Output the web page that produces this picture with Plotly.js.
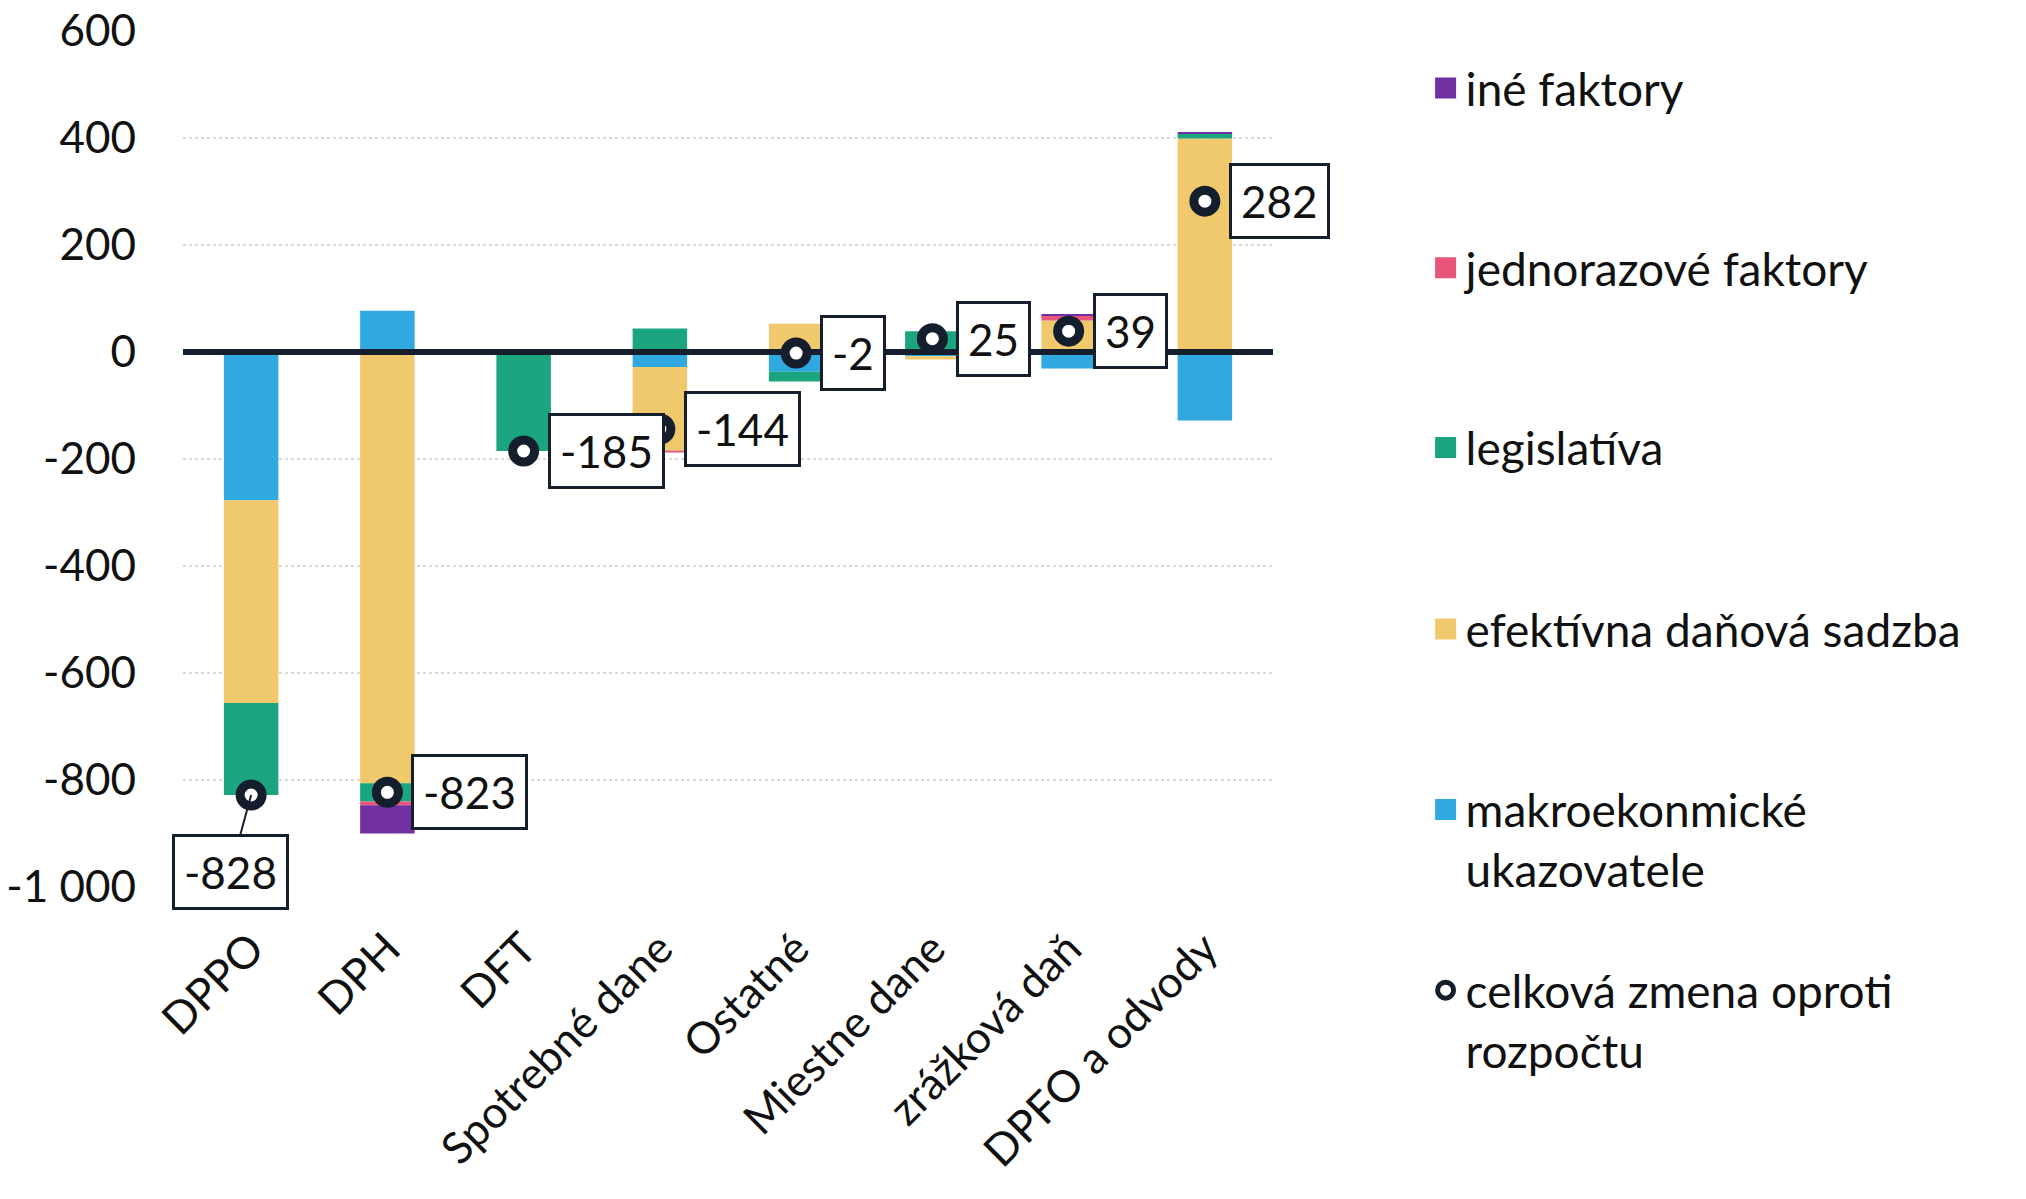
<!DOCTYPE html>
<html>
<head>
<meta charset="utf-8">
<script src="https://cdn.plot.ly/plotly-3.0.1.min.js"></script>
<style>html, body { margin: 0; padding: 0; background: #fff; }</style>
</head>
<body>
<div id="chart" style="width:2026px;height:1199px"></div>
<script>
// ─── data ───────────────────────────────────────────────────
var categories = ['DPPO', 'DPH', 'DFT', 'Spotrebné dane', 'Ostatné', 'Miestne dane', 'zrážková daň', 'DPFO a odvody'];
var makro  = [-277,   77,    0,  -28, -37,  -8, -31, -128];
var efekt  = [-379, -806,    0, -156,  53,  -6,  59,  399];
var legis  = [-172,  -34, -185,   44, -18,  39,   0,    9];
var jednor = [   0,   -7,    0,   -4,   0,   0,   9,    0];
var ine    = [   0,  -53,    0,    0,   0,   0,   2,    2];
var total  = [-828, -823, -185, -144,  -2,  25,  39,  282];

var yTickVals = [-1000, -800, -600, -400, -200, 0, 200, 400, 600];
var yTickText = ['-1 000', '-800', '-600', '-400', '-200', '0', '200', '400', '600'];

// ─── styling ────────────────────────────────────────────────
var FONT = 'Lato, "Open Sans", sans-serif';
var FS = 44;
var INK = '#151e2d';
var TXT = '#111111';

// bars stack in this order (blue closest to zero); legend shows them top-down reversed
var series = [
  { name: 'makroekonmické<br>ukazovatele', values: makro,  color: '#2fa9e0', legend: 'legend5' },
  { name: 'efektívna daňová sadzba',       values: efekt,  color: '#f1c96d', legend: 'legend4' },
  { name: 'legislatíva',                   values: legis,  color: '#1ba57f', legend: 'legend3' },
  { name: 'jednorazové faktory',           values: jednor, color: '#e8557a', legend: 'legend2' },
  { name: 'iné faktory',                   values: ine,    color: '#7030a0', legend: 'legend'  }
];

var idx = categories.map(function (c, i) { return i; });
var traces = [];

series.forEach(function (s) {
  traces.push({
    type: 'bar', x: idx, y: s.values, name: s.name,
    marker: { color: s.color, line: { width: 0 } },
    width: 0.4, showlegend: false, hoverinfo: 'y+name'
  });
});

// legend-only square swatches (bar swatches are too small at this size)
series.forEach(function (s) {
  traces.push({
    type: 'scatter', mode: 'markers', x: [null], y: [null], name: s.name, legend: s.legend,
    marker: { symbol: 'square', size: 22, color: s.color, line: { color: s.color, width: 5 } },
    showlegend: true, hoverinfo: 'skip'
  });
});

// zero line, above the bars but below the markers
traces.push({
  type: 'scatter', mode: 'lines',
  x: [-0.5, categories.length - 0.5], y: [0, 0],
  line: { color: INK, width: 6 }, showlegend: false, hoverinfo: 'skip'
});

traces.push({
  type: 'scatter', mode: 'markers', x: idx, y: total,
  name: 'celková zmena oproti<br>rozpočtu', legend: 'legend6',
  marker: { symbol: 'circle', size: 22, color: '#ffffff', line: { color: INK, width: 9 } },
  hoverinfo: 'y'
});

// value boxes
var annotations = total.map(function (v, i) {
  var a = {
    x: i, y: v, text: String(v),
    font: { family: FONT, size: FS, color: TXT },
    bgcolor: '#ffffff', bordercolor: INK, borderwidth: 3, borderpad: 9
  };
  if (i === 0) {
    a.showarrow = true; a.ax = -21; a.ay = 77;
    a.arrowhead = 0; a.arrowwidth = 2; a.arrowcolor = INK; a.standoff = 0;
  } else {
    a.showarrow = false; a.xanchor = 'left'; a.yanchor = 'middle'; a.xshift = 24;
  }
  return a;
});

function legendAt(y) {
  return {
    x: 1.140, xanchor: 'left', y: y, yanchor: 'top',
    font: { family: FONT, size: 46, color: TXT },
    bgcolor: 'rgba(0,0,0,0)', valign: 'top', itemclick: false, itemdoubleclick: false
  };
}

var layout = {
  width: 2026, height: 1199,
  margin: { l: 183, r: 753, t: 31, b: 312 },
  paper_bgcolor: '#ffffff', plot_bgcolor: '#ffffff',
  font: { family: FONT, size: FS, color: TXT },
  barmode: 'relative',
  xaxis: {
    range: [-0.5, categories.length - 0.5],
    tickvals: idx, ticktext: categories, tickangle: -45,
    showgrid: false, zeroline: false, showline: false, ticks: '', ticklabelstandoff: 26,
    tickfont: { family: FONT, size: FS, color: TXT }, fixedrange: true
  },
  yaxis: {
    range: [-1000, 600],
    tickvals: yTickVals, ticktext: yTickText,
    showgrid: true, gridcolor: '#d9d9d9', gridwidth: 2, griddash: 'dot',
    zeroline: false, showline: false, ticks: '', ticklabelstandoff: 46,
    tickfont: { family: FONT, size: FS, color: TXT }, fixedrange: true
  },
  legend:  legendAt(0.976),
  legend2: legendAt(0.766),
  legend3: legendAt(0.556),
  legend4: legendAt(0.344),
  legend5: legendAt(0.133),
  legend6: legendAt(-0.078),
  annotations: annotations
};

Plotly.newPlot('chart', traces, layout, { displayModeBar: false });
</script>
</body>
</html>
